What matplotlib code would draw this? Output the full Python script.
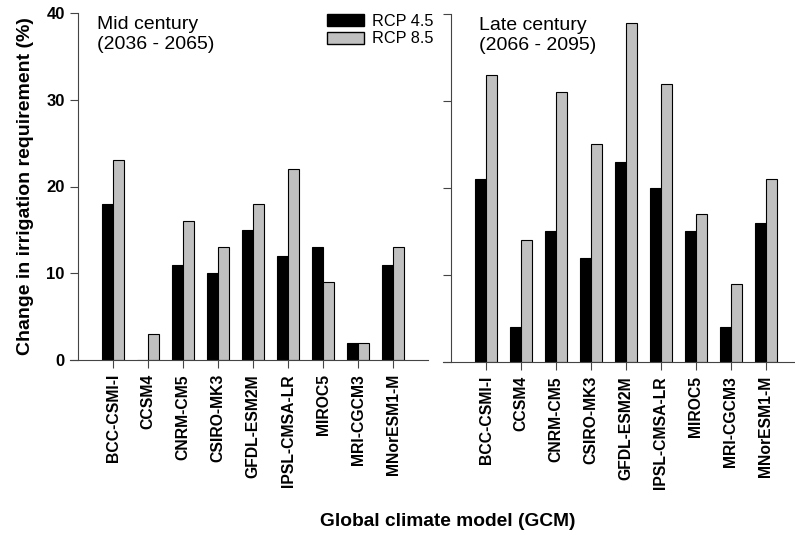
import matplotlib
matplotlib.use("Agg")
import matplotlib.pyplot as plt
from matplotlib.patches import Patch
import numpy as np

plt.rcParams['font.family'] = ['Liberation Sans', 'DejaVu Sans']

# GCM names and change in irrigation requirement (%)
models = ['BCC-CSMI-I', 'CCSM4', 'CNRM-CM5', 'CSIRO-MK3', 'GFDL-ESM2M',
          'IPSL-CMSA-LR', 'MIROC5', 'MRI-CGCM3', 'MNorESM1-M']
mid_rcp45 = [18, 0, 11, 10, 15, 12, 13, 2, 11]
mid_rcp85 = [23, 3, 16, 13, 18, 22, 9, 2, 13]
late_rcp45 = [21, 4, 15, 12, 23, 20, 15, 4, 16]
late_rcp85 = [33, 14, 31, 25, 39, 32, 17, 9, 21]

panels = [
    ('Mid century\n(2036 - 2065)', mid_rcp45, mid_rcp85),
    ('Late century\n(2066 - 2095)', late_rcp45, late_rcp85),
]

W, H = 795, 538
fig = plt.figure(figsize=(W / 100, H / 100), dpi=100)

# axes boxes in pixels: (left, right, top, bottom)
boxes = [(70, 428, 13, 360), (443, 795, 14, 362)]
xlims = [(-0.23, 10.0), (-0.23, 9.83)]

x = np.arange(1, len(models) + 1)
bw = 0.31
gray = '#c0c0c0'

for i, ((title, s45, s85), (l, r, t, b), xl) in enumerate(zip(panels, boxes, xlims)):
    ax = fig.add_axes([l / W, 1 - b / H, (r - l) / W, (b - t) / H])
    ax.bar(x - bw / 2, s45, bw, color='black', edgecolor='black', linewidth=0.8)
    ax.bar(x + bw / 2, s85, bw, color=gray, edgecolor='black', linewidth=0.8)
    ax.set_xlim(*xl)
    ax.set_ylim(0, 40)
    ax.spines['top'].set_visible(False)
    ax.spines['right'].set_visible(False)
    ax.spines['left'].set_position(('data', 0))
    ax.spines['left'].set_color('#444444')
    ax.spines['bottom'].set_color('#444444')
    ax.set_yticks([0, 10, 20, 30, 40])
    ax.set_xticks(x)
    ax.set_xticklabels(models, rotation=90, fontsize=11.3, fontweight='bold')
    ax.tick_params(direction='out', length=6, width=0.8, color='#444444')
    ax.tick_params(axis='x', pad=4)
    if i == 0:
        ax.set_yticklabels(['0', '10', '20', '30', '40'], fontsize=12, fontweight='bold')
        ax.set_ylabel('Change in irrigation requirement (%)', fontsize=14,
                      fontweight='bold', labelpad=9)
        ax.legend(handles=[Patch(facecolor='black', edgecolor='black', label='RCP 4.5'),
                           Patch(facecolor=gray, edgecolor='black', label='RCP 8.5')],
                  loc='upper left', bbox_to_anchor=(327 / W, 1 - 14 / H),
                  bbox_transform=fig.transFigure, frameon=False, fontsize=11.7,
                  handlelength=2.3, handleheight=0.75, labelspacing=0.15,
                  borderpad=0, borderaxespad=0, handletextpad=0.45)
    else:
        ax.set_yticklabels([])
    ax.text(0.55 if i == 0 else 0.8, 39.6, title, fontsize=14, va='top', ha='left',
            linespacing=1.2)

fig.text(448 / W, 1 - 522 / H, 'Global climate model (GCM)', fontsize=13.8,
         fontweight='bold', ha='center', va='center')

fig.savefig('out.png', dpi=100)
